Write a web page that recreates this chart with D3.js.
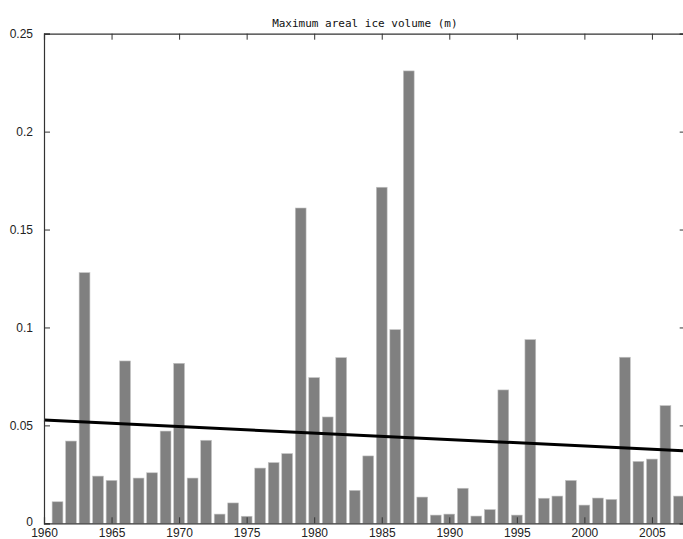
<!DOCTYPE html>
<html>
<head>
<meta charset="utf-8">
<script src="https://cdn.jsdelivr.net/npm/d3@7"></script>
<style>
	body { margin: 0; background: #fff; }
	svg { display: block; }
	.tick_lbl { font-family: "Liberation Sans", Arial, sans-serif; font-size: 12px; fill: #222; }
	.title { font-family: "DejaVu Sans Mono", monospace; font-size: 11px; fill: #111; }
</style>
</head>
<body>
<div id="chart"></div>
<script>
// years of each bar
var years = d3.range(1961, 2008)

// max areal ice volume (m)
var ice_volume = [
	0.0110, 0.0420, 0.1280, 0.0241, 0.0219, 0.0829, 0.0231, 0.0258, 0.0471, 0.0817,
	0.0231, 0.0424, 0.0047, 0.0104, 0.0036, 0.0282, 0.0310, 0.0356, 0.1610, 0.0744,
	0.0543, 0.0846, 0.0168, 0.0344, 0.1716, 0.0989, 0.2310, 0.0134, 0.0042, 0.0047,
	0.0179, 0.0037, 0.0070, 0.0681, 0.0042, 0.0938, 0.0128, 0.0139, 0.0219, 0.0093,
	0.0129, 0.0122, 0.0848, 0.0316, 0.0328, 0.0601, 0.0139
]

// trend line end points
var trend_years = [1960, 2007.5]
var trend_values = [0.0527, 0.0370]

var x_ticks = [1960, 1965, 1970, 1975, 1980, 1985, 1990, 1995, 2000, 2005]
var y_ticks = [0, 0.05, 0.1, 0.15, 0.2, 0.25]

var title_text = "Maximum areal ice volume (m)"

var W = 683, H = 539
var margin = {top: 33.7, right: -2.7, bottom: 15.7, left: 44},
	width = W - margin.left - margin.right,
	height = H - margin.top - margin.bottom;

var svg = d3.select("#chart")
	.append("svg")
	.attr("width", W)
	.attr("height", H)

var g = svg.append("g")
	.attr("transform", "translate(" + margin.left + "," + margin.top + ")");

var xScale = d3.scaleLinear()
	.domain([1960, 2007.5])
	.range([0, width]);

var yScale = d3.scaleLinear()
	.domain([0, 0.25])
	.range([height, 0]);

var bar_w = xScale(1960.8) - xScale(1960)

var data = years.map(function(y, i){
	return {year: y, value: ice_volume[i]}
})

// bars
g.selectAll(".ice_bars")
	.data(data)
	.enter().append("rect")
	.attr("class", "ice_bars")
	.attr("x", function(d){
		return xScale(d.year) - bar_w / 2
	})
	.attr("width", bar_w)
	.attr("y", function(d){
		return yScale(d.value)
	})
	.attr("height", function(d){
		return height - yScale(d.value)
	})
	.attr("fill", "#808080")
	.attr("stroke", "#c4c4c4")
	.attr("stroke-width", 0.6)

// trend line
var trend = trend_years.map(function(y, i){
	return [xScale(y), yScale(trend_values[i])]
})

g.append("path")
	.attr("d", d3.line()(trend))
	.attr("fill", "none")
	.attr("stroke", "#000")
	.attr("stroke-width", 3)

// axes, ticks pointing inward like matlab
var axis_col = "#333"

var xAxisB = g.append("g")
	.attr("transform", "translate(0," + height + ")")
	.call(d3.axisBottom(xScale).tickValues(x_ticks).tickSize(-6).tickPadding(5).tickFormat(d3.format("d")))
var xAxisT = g.append("g")
	.call(d3.axisTop(xScale).tickValues(x_ticks).tickSize(-6).tickFormat(""))
var yAxisL = g.append("g")
	.call(d3.axisLeft(yScale).tickValues(y_ticks).tickSize(-6).tickPadding(11).tickFormat(d3.format("~g")))
var yAxisR = g.append("g")
	.attr("transform", "translate(" + width + ",0)")
	.call(d3.axisRight(yScale).tickValues(y_ticks).tickSize(-6).tickFormat(""))

;[xAxisB, xAxisT, yAxisL, yAxisR].forEach(function(a){
	a.select(".domain").attr("stroke", axis_col).attr("stroke-width", 1.2)
	a.selectAll(".tick line").attr("stroke", axis_col)
	a.selectAll(".tick text").attr("class", "tick_lbl").attr("fill", null)
})

yAxisL.selectAll(".tick text").attr("dy", function(d){
	// the 0 label sits just above the 1960 label
	return d === 0 ? "0.2em" : "0.35em"
})

// title
g.append("text")
	.attr("class", "title")
	.attr("x", width / 2)
	.attr("y", -7)
	.attr("text-anchor", "middle")
	.text(title_text)
</script>
</body>
</html>
